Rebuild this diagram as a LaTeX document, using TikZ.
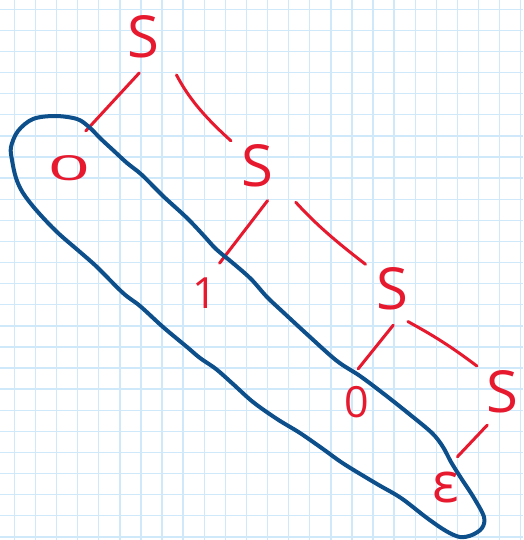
\documentclass[tikz,border=0pt]{standalone}
\usepackage{graphicx}
\usepackage{fontspec}
\setsansfont{Open Sans}
\usepackage{tikz}
\usetikzlibrary{positioning}
\definecolor{pen-red}{HTML}{E6192E}
\definecolor{pen-blue}{HTML}{0D4F8B}
\definecolor{paper-grid}{HTML}{CFE8FA}

\begin{document}
\begin{tikzpicture}[
    x=1pt, y=-1pt,
    font=\sffamily
  ]

  \tikzset{
    letter/.style={circle, inner sep=0pt, minimum size=72pt, text=pen-red, font=\sffamily\fontsize{58}{60}\selectfont},
    leaf/.style={circle, inner sep=0pt, minimum size=66pt, text=pen-red, font=\sffamily\fontsize{43}{45}\selectfont},
    branch/.style={draw=pen-red, line width=3pt, line cap=round},
    gridline/.style={paper-grid, line width=1.4pt},
    lasso/.style={draw=pen-blue, line width=4pt, line join=round}
  }

  % Squared paper
  \fill[white] (0,0) rectangle (523,540);
  \useasboundingbox (0,0) rectangle (523,540);
  \foreach \i in {0,...,24}
    \draw[gridline] (14.3+21.1*\i,0) -- (14.3+21.1*\i,540);
  \foreach \j in {0,...,25}
    \draw[gridline] (0,9.3+21.1*\j) -- (523,9.3+21.1*\j);

  % Derivation tree
  \node (s1)   [letter] at (143,37)  {S};
  \node (s2)   [letter] at (257,166) {S};
  \node (s3)   [letter] at (392,289) {S};
  \node (s4)   [letter] at (502,392) {S};
  \node (zero) [leaf]   at (69,168)  {\scalebox{1.7}[0.8]{0}};
  \node (one)  [leaf]   at (205,293) {1};
  \node (nil)  [leaf]   at (357,402) {0};
  \node (eps)  [leaf, font=\sffamily\fontsize{56}{58}\selectfont] at (446,488) {ε};

  \draw[branch, shorten >=8pt] (s1.-96) -- (zero.70);
  \draw[branch, shorten <=15pt] (s1.-43) to[bend right=10] (s2.136);
  \draw[branch] (s2.-73) -- (one.64);
  \draw[branch, shorten <=17pt] (s2.-41) to[bend right=5] (s3.137);
  \draw[branch] (s3.-88) -- (nil.88);
  \draw[branch] (s3.-64) to[bend left=4] (s4.134);
  \draw[branch] (s4.-114) -- (eps.70);

  % Yield of the tree
  \draw[lasso] plot[smooth cycle, tension=0.55] coordinates {
    (33,119) (55,116) (77,119) (89,127) (101,139) (114,151) (127,163)
    (142,175) (163,196) (187,218) (205,237) (216,249) (234,264) (251,279)
    (267,297) (284,313) (310,337) (337,361) (360,376) (384,394) (408,413)
    (432,433) (443,447) (451,462) (461,478) (474,498) (484,517) (482,528)
    (472,535) (460,537) (446,531) (427,518) (401,498) (377,484) (344,464)
    (323,449) (300,433) (277,419) (253,402) (233,384) (216,369) (200,358)
    (187,347) (163,327) (140,306) (123,293) (97,267) (80,252) (57,232)
    (37,211) (23,193) (16,178) (12,160) (11,147) (18,131)};

\end{tikzpicture}
\end{document}
